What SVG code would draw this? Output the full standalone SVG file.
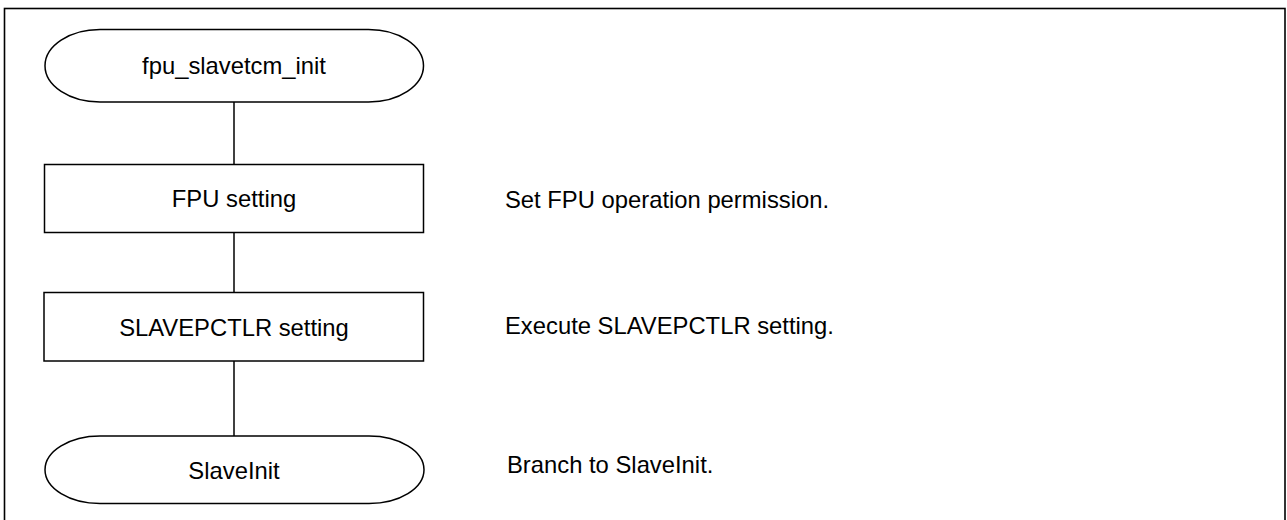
<svg xmlns="http://www.w3.org/2000/svg" width="1287" height="520" viewBox="0 0 1287 520">
<style>
.shape{fill:#fff;stroke:#000;stroke-width:1.5}
.frame{fill:#fff;stroke:#000;stroke-width:1.6}
.conn{stroke:#000;stroke-width:1.5;fill:none}
text{font-family:"Liberation Sans",Arial,sans-serif;font-size:23.8px;fill:#000}
.c{text-anchor:middle}
</style>
<rect class="frame" x="4.5" y="8.5" width="1280.5" height="530"/>
<g id="connectors">
<line class="conn" x1="234" y1="101.5" x2="234" y2="164.5"/>
<line class="conn" x1="234" y1="232.5" x2="234" y2="292.5"/>
<line class="conn" x1="234" y1="361" x2="234" y2="436"/>
</g>
<g id="start">
<rect class="shape" x="45" y="29.5" width="378.5" height="72.5" rx="55" ry="36.25"/>
<text class="c" x="234" y="73.5">fpu_slavetcm_init</text>
</g>
<g id="fpu">
<rect class="shape" x="44.5" y="164.5" width="379" height="68"/>
<text class="c" x="234" y="207">FPU setting</text>
</g>
<g id="slavepctlr">
<rect class="shape" x="44" y="292.5" width="379.5" height="68.5"/>
<text class="c" x="234" y="336">SLAVEPCTLR setting</text>
</g>
<g id="end">
<rect class="shape" x="45" y="436" width="379" height="67.5" rx="55" ry="33.75"/>
<text class="c" x="234" y="479">SlaveInit</text>
</g>
<g id="notes">
<text x="505" y="208">Set FPU operation permission.</text>
<text x="505" y="334">Execute SLAVEPCTLR setting.</text>
<text x="507" y="473">Branch to SlaveInit.</text>
</g>
</svg>
